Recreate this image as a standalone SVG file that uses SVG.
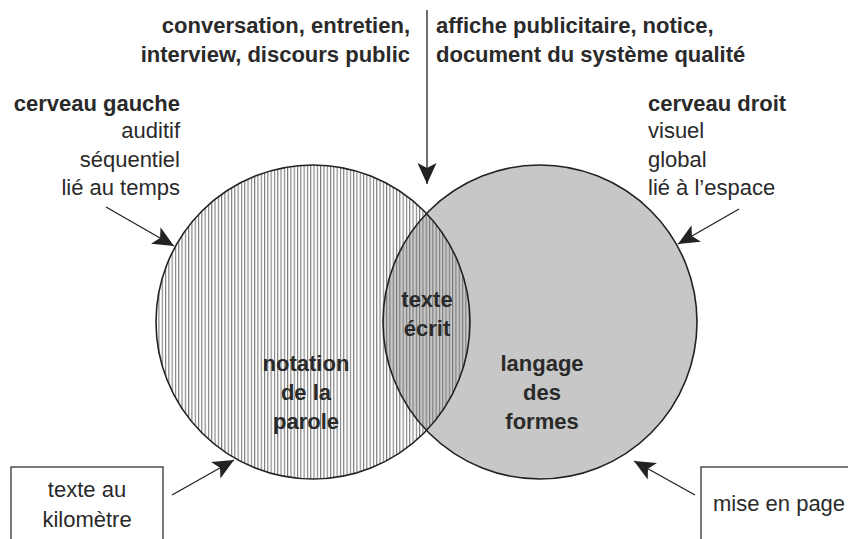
<svg xmlns="http://www.w3.org/2000/svg" width="848" height="539" viewBox="0 0 848 539">
<style>
  text { font-family: "Liberation Sans", Arial, sans-serif; font-size: 22px; fill: #2a2a2a; }
  .b { font-weight: bold; }
  .m { text-anchor: middle; }
  .e { text-anchor: end; }
  .edge { fill: none; stroke: #222; stroke-width: 1.6; }
  .box { fill: #fff; stroke: #333; stroke-width: 1.3; }
  .conn line { stroke: #222; stroke-width: 1.3; }
</style>
<defs>
  <pattern id="hatch" patternUnits="userSpaceOnUse" width="3.3" height="10">
    <rect x="0" y="0" width="1.1" height="10" fill="#7a7a7a"/>
  </pattern>
  <marker id="ah" markerUnits="userSpaceOnUse" viewBox="-22 -10 23 20" refX="0" refY="0" markerWidth="23" markerHeight="20" orient="auto">
    <path d="M0,0 L-21,-9.5 L-16,0 L-21,9.5 Z" fill="#222"/>
  </marker>
</defs>
<rect width="848" height="539" fill="#fff"/>

<g id="circle-left-bg">
  <circle cx="313" cy="322" r="157" fill="#fff"/>
</g>
<g id="circle-right">
  <circle cx="540" cy="322" r="157" fill="#c6c7c6"/>
</g>
<g id="circle-left">
  <circle cx="313" cy="322" r="157" fill="url(#hatch)"/>
</g>
<g id="circle-edges">
  <circle class="edge" cx="313" cy="322" r="157"/>
  <circle class="edge" cx="540" cy="322" r="157"/>
</g>

<g id="label-left-circle">
  <text class="b m" x="306" y="371">notation</text>
  <text class="b m" x="306" y="400">de la</text>
  <text class="b m" x="306" y="429">parole</text>
</g>
<g id="label-intersection">
  <text class="b m" x="427" y="307">texte</text>
  <text class="b m" x="427" y="336">écrit</text>
</g>
<g id="label-right-circle">
  <text class="b m" x="542" y="371">langage</text>
  <text class="b m" x="542" y="400">des</text>
  <text class="b m" x="542" y="429">formes</text>
</g>

<g id="top-left-text">
  <text class="b e" x="410" y="33">conversation, entretien,</text>
  <text class="b e" x="410" y="62">interview, discours public</text>
</g>
<g id="top-right-text">
  <text class="b" x="436" y="33">affiche publicitaire, notice,</text>
  <text class="b" x="436" y="62">document du système qualité</text>
</g>
<g id="cerveau-gauche">
  <text class="b e" x="180" y="111">cerveau gauche</text>
  <text class="e" x="180" y="138">auditif</text>
  <text class="e" x="180" y="167">séquentiel</text>
  <text class="e" x="180" y="195">lié au temps</text>
</g>
<g id="cerveau-droit">
  <text class="b" x="648" y="111">cerveau droit</text>
  <text x="648" y="138">visuel</text>
  <text x="648" y="167">global</text>
  <text x="648" y="195">lié à l’espace</text>
</g>

<g id="box-kilometre">
  <rect class="box" x="11" y="467" width="152" height="90"/>
  <text class="m" x="87" y="497">texte au</text>
  <text class="m" x="87" y="527">kilomètre</text>
</g>
<g id="box-mise-en-page">
  <rect class="box" x="701" y="467" width="160" height="90"/>
  <text x="713" y="511">mise en page</text>
</g>

<g id="connectors" class="conn">
  <line x1="427" y1="10" x2="427" y2="184" marker-end="url(#ah)"/>
  <line x1="106" y1="207" x2="174" y2="246" marker-end="url(#ah)"/>
  <line x1="739" y1="209" x2="678" y2="244" marker-end="url(#ah)"/>
  <line x1="172" y1="495" x2="234" y2="460" marker-end="url(#ah)"/>
  <line x1="695" y1="495" x2="634" y2="461" marker-end="url(#ah)"/>
</g>
</svg>
